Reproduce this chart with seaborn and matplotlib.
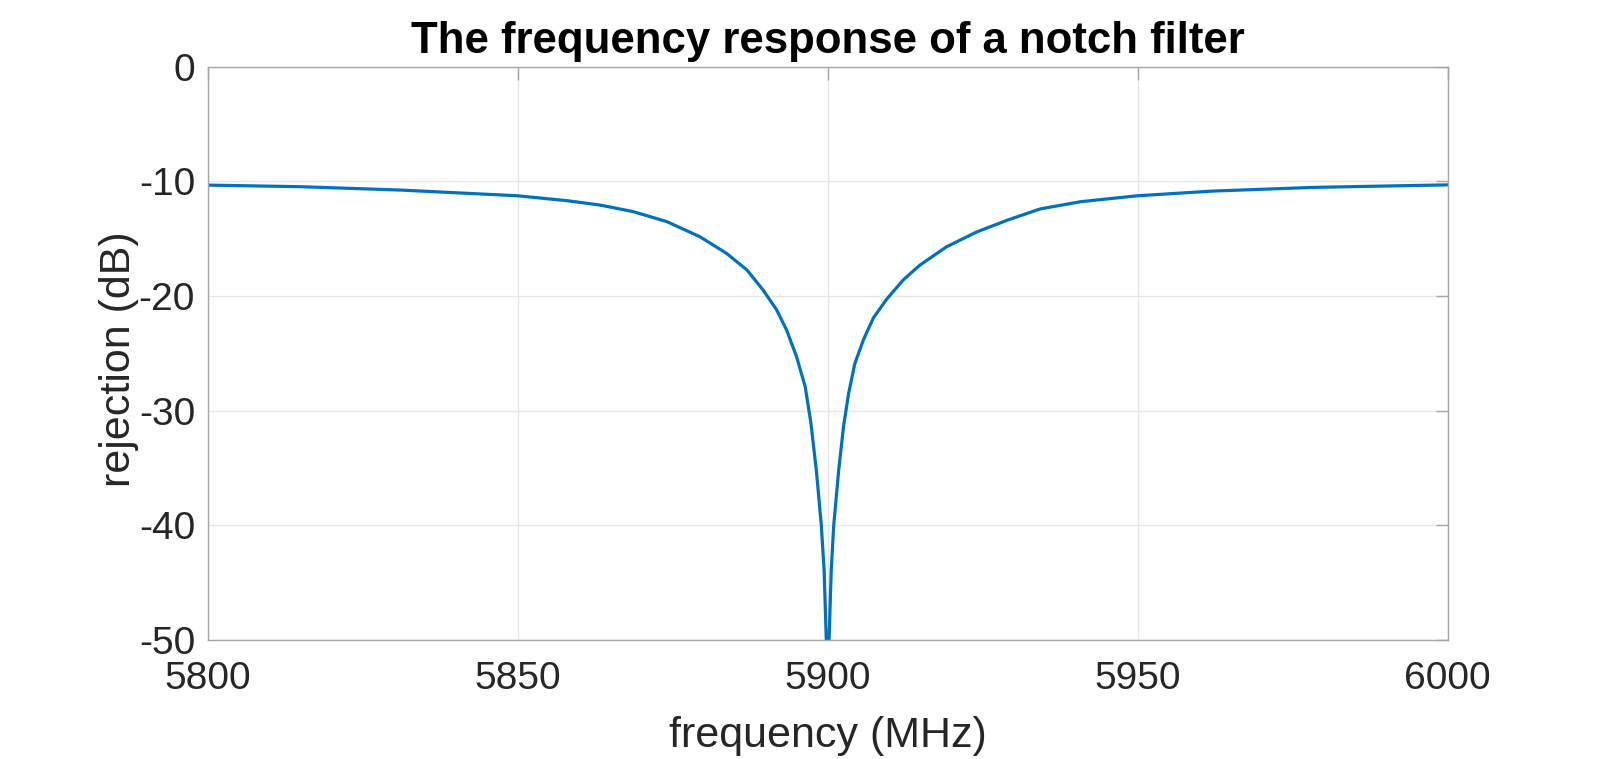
import matplotlib
matplotlib.use("Agg")
import matplotlib.pyplot as plt
import seaborn as sns
import pandas as pd

# values
freq_mhz = [5800, 5815, 5831, 5850, 5858, 5863.3, 5868.7, 5874.1, 5879.4, 5883.7,
            5887.0, 5889.6, 5891.8, 5893.4, 5895.0, 5896.4, 5897.3, 5898.2, 5899.0,
            5899.45, 5899.8, 5900.0,
            5900.25, 5900.6, 5901.0, 5901.8, 5902.6, 5903.4, 5904.4, 5905.8, 5907.4,
            5909.5, 5912.2, 5914.9, 5919.2, 5924.1, 5928.9, 5934.3, 5940.8, 5950,
            5962.2, 5978.4, 5990, 6000]
rejection_db = [-10.32, -10.46, -10.75, -11.25, -11.68, -12.06, -12.64, -13.51, -14.82, -16.27,
                -17.72, -19.47, -21.21, -22.96, -25.28, -27.9, -31.0, -35.2, -40.0,
                -43.9, -50.0, -60.0,
                -50.0, -43.9, -40.0, -35.2, -31.3, -28.5, -25.9, -23.8, -21.9,
                -20.3, -18.6, -17.3, -15.7, -14.4, -13.4, -12.4, -11.77, -11.25,
                -10.84, -10.52, -10.4, -10.3]
x_ticks = [5800, 5850, 5900, 5950, 6000]
y_ticks = [-50, -40, -30, -20, -10, 0]

sns.set_style("white")
plt.rcParams['font.family'] = ['Liberation Sans', 'DejaVu Sans']
plt.rcParams['axes.unicode_minus'] = False

df = pd.DataFrame({"frequency": freq_mhz, "rejection": rejection_db})

fig, ax = plt.subplots(figsize=(16, 7.59), dpi=100)
fig.subplots_adjust(left=0.1297, right=0.9047, bottom=0.1568, top=0.912)

sns.lineplot(data=df, x="frequency", y="rejection", ax=ax, color="#0072BD", linewidth=2.3)

ax.set_xlim(5800, 6000)
ax.set_ylim(-50, 0)
ax.set_xticks(x_ticks)
ax.set_yticks(y_ticks)
ax.grid(True, color="#e6e6e6", linewidth=1.0)
ax.set_axisbelow(True)

for sp in ax.spines.values():
    sp.set_color("#a6a6a6")
    sp.set_linewidth(1.0)
    sp.set_visible(True)

ax.tick_params(axis="both", which="both", direction="in", length=9, width=1.0,
               color="#a6a6a6", labelcolor="#262626", labelsize=28,
               top=True, right=True)
ax.tick_params(axis="y", pad=9)
ax.tick_params(axis="x", pad=15)

ax.set_xlabel("frequency (MHz)", fontsize=31, color="#262626", labelpad=14)
ax.set_ylabel("rejection (dB)", fontsize=31, color="#262626")
ax.yaxis.set_label_coords(-0.055, 0.49)
ax.set_title("The frequency response of a notch filter", fontsize=31.5,
             fontweight="bold", color="#000000", pad=10)

fig.savefig("out.png", dpi=100)
